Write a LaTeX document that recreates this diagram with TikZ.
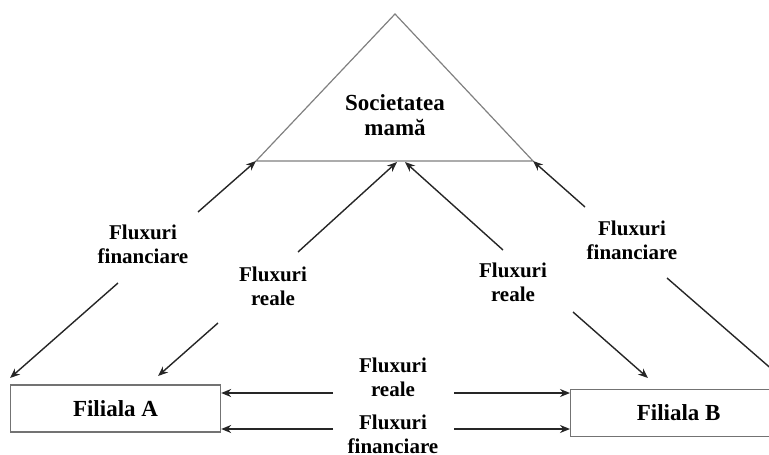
\documentclass[tikz,border=0pt]{standalone}
\usepackage{fontspec}
\setmainfont{Liberation Serif}
\usepackage{tikz}
\usetikzlibrary{positioning, arrows.meta, calc}

\begin{document}
\begin{tikzpicture}[
    x=1pt, y=-1pt,
    >={Stealth[length=10pt,width=8pt]},
    flow/.style={->, line width=1.4pt, black!85},
    branch/.style={rectangle, draw=black!55, line width=1.3pt, minimum height=47pt, align=center, font=\fontsize{23}{25}\selectfont\bfseries},
    label/.style={align=center, font=\fontsize{21}{24}\selectfont\bfseries},
    every node/.style={inner sep=0pt}
]
\useasboundingbox (0,0) rectangle (769,455);

% Parent company triangle
\coordinate (apex) at (395,14);
\coordinate (bl) at (256,161);
\coordinate (br) at (533,161);
\coordinate (bm1) at (397,162);
\coordinate (bm2) at (405,162);
\draw[black!50, line width=1.2pt] (apex) -- (br) -- (bl) -- cycle;
\node[align=center, font=\fontsize{23}{25}\selectfont\bfseries] (soc) at (395,115) {Societatea\\mamă};

% Nodes
\node[branch, minimum width=210pt] (A) at (115.5,408.5) {Filiala A};
\node[branch, minimum width=216pt, anchor=west] (B) at (570,413) {Filiala B};

% Labels
\node[label] (lfin) at (143,244) {Fluxuri\\financiare};
\node[label] (lreal) at (273,286) {Fluxuri\\reale};
\node[label] (rreal) at (513,282) {Fluxuri\\reale};
\node[label] (rfin) at (632,240) {Fluxuri\\financiare};
\node[label] (mreal) at (393,377) {Fluxuri\\reale};
\node[label] (mfin) at (393,434) {Fluxuri\\financiare};

% Free ends of the flows
\coordinate (lfin1) at (198,212);
\coordinate (lfin2) at (118,283);
\coordinate (lfinA) at (10,378);
\coordinate (lreal1) at (298,252);
\coordinate (lreal2) at (218,323);
\coordinate (lrealA) at (158,376);
\coordinate (rreal1) at (503,250);
\coordinate (rreal2) at (573,312);
\coordinate (rrealB) at (648,378);
\coordinate (rfin1) at (585,207);
\coordinate (rfin2) at (667,278);
\coordinate (rfinB) at (790,385);
\coordinate (mrl) at (333,393);
\coordinate (mrr) at (454,393);
\coordinate (mfl) at (333,429);
\coordinate (mfr) at (454,429);

% Flows towards the parent company
\draw[flow] (lfin1) -- (bl);
\draw[flow] (lreal1) -- (bm1);
\draw[flow] (rreal1) -- (bm2);
\draw[flow] (rfin1) -- (br);

% Flows towards the branches
\draw[flow] (lfin2) -- (lfinA);
\draw[flow] (lreal2) -- (lrealA);
\draw[flow] (rreal2) -- (rrealB);
\draw[flow] (rfin2) -- (rfinB);

% Flows between the branches
\draw[flow] (mrl) -- (A.east |- mrl);
\draw[flow] (mfl) -- (A.east |- mfl);
\draw[flow] (mrr) -- (B.west |- mrr);
\draw[flow] (mfr) -- (B.west |- mfr);

\end{tikzpicture}
\end{document}
